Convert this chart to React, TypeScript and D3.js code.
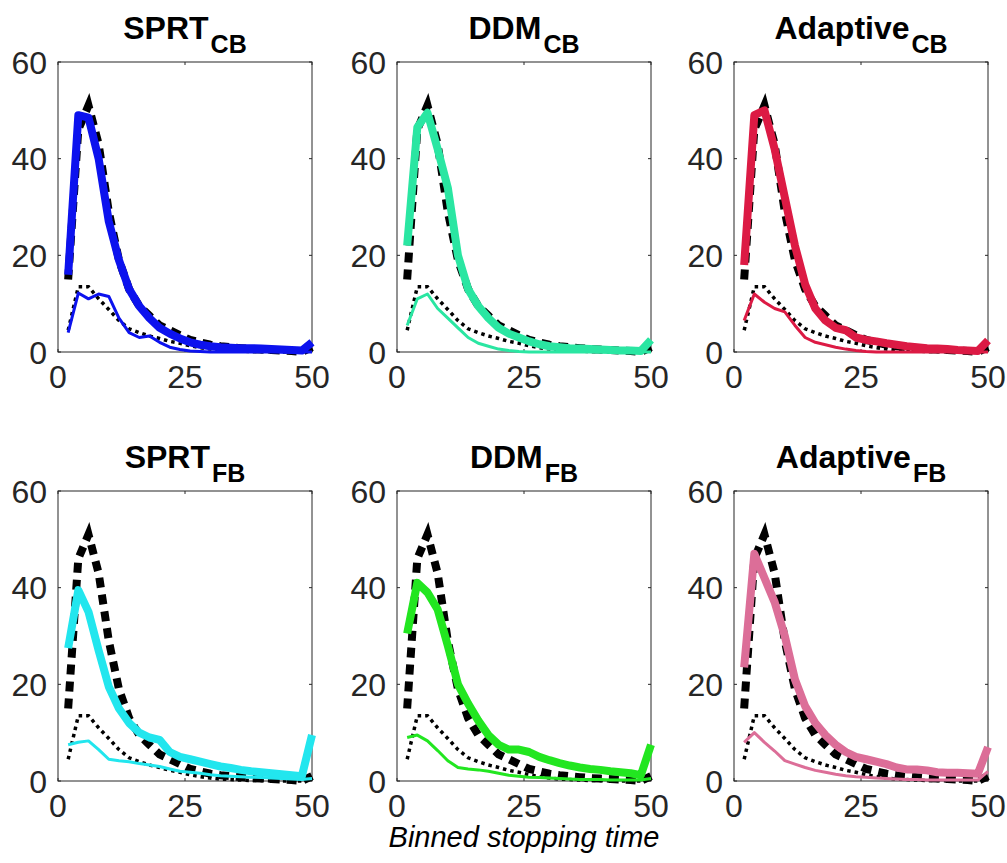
import React from "react";
import * as d3 from "d3";

const xBins = [2, 4, 6, 8, 10, 12, 14, 16, 18, 20, 22, 24, 26, 28, 30, 32, 34, 36, 38, 40, 42, 44, 46, 48, 50];

const humanCorrect = [15, 46, 51, 43, 29, 19, 13, 9.5, 7.5, 5.5, 4.5, 3.5, 2.5, 2, 1.5, 1.2, 1, 0.8, 0.6, 0.5, 0.4, 0.3, 0.2, 0, 1];
const humanError = [4.5, 13.5, 13.5, 11, 8.8, 6.5, 4.8, 4, 3.3, 2.8, 2.2, 1.8, 1.3, 0.9, 0.6, 0.4, 0.3, 0.2, 0.1, 0.1, 0, 0, 0, 0, 0.3];

const sprtCBCorrect = [16, 49, 48.5, 40, 27, 19, 13, 9.5, 7, 5, 3.8, 2.8, 2, 1.5, 1.2, 1, 0.9, 0.8, 0.8, 0.7, 0.6, 0.5, 0.4, 0.3, 2];
const sprtCBError = [4, 12.2, 11, 12, 11.5, 7, 4, 3, 3.3, 2, 1, 0.5, 0.2, 0.1, 0, 0, 0, 0, 0, 0, 0, 0, 0, 0, 0];

const ddmCBCorrect = [22, 46.5, 49.5, 42, 34, 20, 13, 9.5, 7, 5, 3.8, 3, 2.2, 1.6, 1.2, 1, 0.8, 0.7, 0.6, 0.5, 0.4, 0.3, 0.3, 0.2, 2.5];
const ddmCBError = [5.5, 11, 12, 9, 7, 5, 3, 1.8, 1.2, 0.6, 0.3, 0.1, 0, 0, 0, 0, 0, 0, 0, 0, 0, 0, 0, 0, 0];

const adaptCBCorrect = [18, 49, 50, 42, 32, 22, 14, 9, 6.5, 5, 4.5, 3, 2.5, 2.2, 1.8, 1.5, 1.2, 1, 0.8, 0.7, 0.6, 0.4, 0.3, 0.2, 2.4];
const adaptCBError = [6.5, 12, 10.3, 9, 8.3, 5.5, 3, 2, 1.5, 1, 0.6, 0.3, 0.1, 0, 0, 0, 0, 0, 0, 0, 0, 0, 0, 0, 0];

const sprtFBCorrect = [27.5, 39.5, 35, 27, 19.5, 15, 12, 10, 9, 8.5, 6, 5, 4.5, 4, 3.5, 3, 2.7, 2.3, 2, 1.8, 1.6, 1.4, 1.2, 1.0, 9.5];
const sprtFBError = [7.5, 8, 8.3, 6.5, 4.5, 4.2, 4, 3.6, 3.3, 3, 2.5, 2, 1.8, 1.6, 1.3, 1.1, 1, 0.9, 0.8, 0.7, 0.6, 0.5, 0.4, 0.3, 0.5];

const ddmFBCorrect = [30.5, 41, 39, 35.5, 28, 20, 16, 12.5, 9.5, 7.5, 6.5, 6.5, 6, 5, 4.3, 3.7, 3.2, 2.8, 2.5, 2.3, 2, 1.8, 1.6, 1.2, 7.5];
const ddmFBError = [9, 9.5, 8.3, 6.3, 4.2, 2.8, 2.5, 2.3, 2, 1.6, 1.2, 1, 0.8, 0.7, 0.6, 0.5, 0.4, 0.3, 0.3, 0.3, 0.2, 0.2, 0.2, 0.2, 0.5];

const adaptFBCorrect = [23.5, 47, 42, 37, 30, 21, 15.5, 12, 9.5, 7.5, 6, 5, 4.5, 4, 3.5, 2.8, 2.4, 2.4, 2.2, 1.8, 1.7, 1.7, 1.6, 1.5, 7];
const adaptFBError = [8, 10, 8, 6.2, 4.2, 3.5, 2.8, 2.2, 1.8, 1.4, 1.1, 0.9, 0.8, 0.6, 0.5, 0.4, 0.3, 0.3, 0.2, 0.2, 0.2, 0.2, 0.2, 0.2, 2];

const xTicks = [0, 25, 50];
const yTicks = [0, 20, 40, 60];

const panels = [
  { name: "SPRT", sub: "CB", color: "#0c12ee", correct: sprtCBCorrect, error: sprtCBError, row: 0, col: 0 },
  { name: "DDM", sub: "CB", color: "#2ae6a2", correct: ddmCBCorrect, error: ddmCBError, row: 0, col: 1 },
  { name: "Adaptive", sub: "CB", color: "#dc1a44", correct: adaptCBCorrect, error: adaptCBError, row: 0, col: 2 },
  { name: "SPRT", sub: "FB", color: "#22e6ee", correct: sprtFBCorrect, error: sprtFBError, row: 1, col: 0 },
  { name: "DDM", sub: "FB", color: "#22e620", correct: ddmFBCorrect, error: ddmFBError, row: 1, col: 1 },
  { name: "Adaptive", sub: "FB", color: "#dc6e98", correct: adaptFBCorrect, error: adaptFBError, row: 1, col: 2 },
];

const colLefts = [58, 397, 734];
const rowTops = [62, 491];
const W = 254;
const H = 290;
const axisColor = "#262626";
const font = "'Liberation Sans', Arial, Helvetica, sans-serif";

function Panel({ p }: { p: (typeof panels)[number] }) {
  const left = colLefts[p.col];
  const top = rowTops[p.row];
  const x = d3.scaleLinear().domain([0, 50]).range([0, W]);
  const y = d3.scaleLinear().domain([0, 60]).range([H, 0]);
  const line = d3
    .line<number>()
    .x((_, i) => x(xBins[i]))
    .y((d) => y(d));

  return (
    <g transform={`translate(${left},${top})`}>
      <text
        x={W / 2}
        y={-23}
        textAnchor="middle"
        fontFamily={font}
        fontWeight="bold"
        fontSize={32}
        fill="#000"
      >
        <tspan>{p.name}</tspan>
        <tspan fontSize={25} dx={2} dy={14}>
          {p.sub}
        </tspan>
      </text>
      <rect x={0} y={0} width={W} height={H} fill="none" stroke={axisColor} strokeWidth={1} />
      {xTicks.map((t) => (
        <g key={"xt" + t}>
          <line x1={x(t)} x2={x(t)} y1={H} y2={H - 3} stroke={axisColor} />
          <line x1={x(t)} x2={x(t)} y1={0} y2={3} stroke={axisColor} />
        </g>
      ))}
      {yTicks.map((t) => (
        <g key={"yt" + t}>
          <line x1={0} x2={3} y1={y(t)} y2={y(t)} stroke={axisColor} />
          <line x1={W} x2={W - 3} y1={y(t)} y2={y(t)} stroke={axisColor} />
        </g>
      ))}
      {xTicks.map((t) => (
        <text
          key={"xl" + t}
          x={x(t)}
          y={H + 36}
          textAnchor="middle"
          fontFamily={font}
          fontSize={32}
          fill={axisColor}
        >
          {t}
        </text>
      ))}
      {yTicks.map((t) => (
        <text
          key={"yl" + t}
          x={-11}
          y={y(t) + 11.5}
          textAnchor="end"
          fontFamily={font}
          fontSize={32}
          fill={axisColor}
        >
          {t}
        </text>
      ))}
      <path
        d={line(humanCorrect) || ""}
        fill="none"
        stroke="#000"
        strokeWidth={8}
        strokeDasharray="10,7"
        strokeLinejoin="miter"
        strokeMiterlimit={10}
      />
      <path
        d={line(humanError) || ""}
        fill="none"
        stroke="#000"
        strokeWidth={3.5}
        strokeDasharray="3.5,4"
      />
      <path
        d={line(p.correct) || ""}
        fill="none"
        stroke={p.color}
        strokeWidth={8}
        strokeLinejoin="round"
      />
      <path d={line(p.error) || ""} fill="none" stroke={p.color} strokeWidth={3} strokeLinejoin="round" />
    </g>
  );
}

export default function App() {
  return (
    <svg width={1007} height={863} style={{ position: "absolute", left: 0, top: 0, background: "#fff" }}>
      <rect x={0} y={0} width={1007} height={863} fill="#fff" />
      {panels.map((p, i) => (
        <Panel key={i} p={p} />
      ))}
      <text
        x={colLefts[1] + W / 2}
        y={847}
        textAnchor="middle"
        fontFamily={font}
        fontStyle="italic"
        fontSize={29}
        fill="#000"
      >
        Binned stopping time
      </text>
    </svg>
  );
}
